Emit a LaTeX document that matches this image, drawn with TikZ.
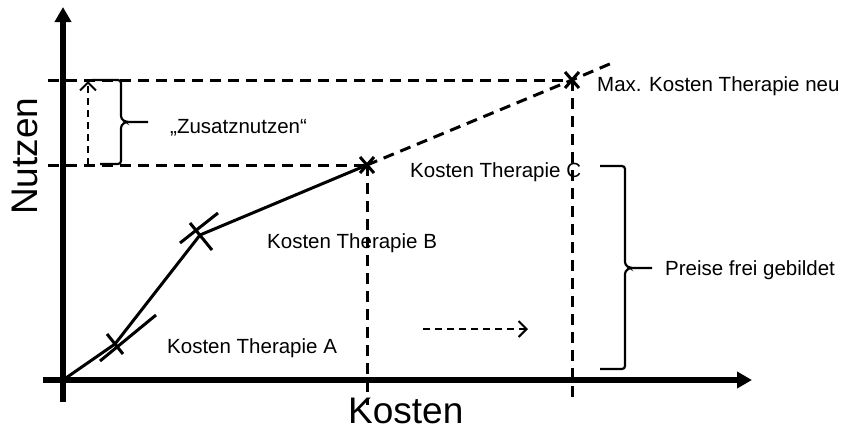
\documentclass[tikz,border=0pt]{standalone}
\usepackage{fontspec}
\setmainfont{Liberation Sans}
\usetikzlibrary{arrows.meta}

\begin{document}
\begin{tikzpicture}[x=1pt, y=-1pt,
  axis/.style={line width=5.5pt, -{Triangle[length=15pt,width=16pt]}},
  curve/.style={line width=3pt},
  xmark/.style={line width=3pt},
  guide/.style={line width=3pt, dash pattern=on 11pt off 7pt},
  hint/.style={line width=2pt, dash pattern=on 7pt off 5pt,
               -{Straight Barb[length=8pt,width=16pt,line width=2pt]}},
  brc/.style={line width=2.2pt, rounded corners=3pt},
  lbl/.style={font=\fontsize{20.5}{24}\selectfont, inner sep=0pt, anchor=base west},
  big/.style={font=\fontsize{37}{44}\selectfont, inner sep=0pt, anchor=base west}
]
\useasboundingbox (0,0) rectangle (843,432);

% points on the curve
\coordinate (O) at (63,380);
\coordinate (A) at (115,344);
\coordinate (B) at (200,235);
\coordinate (C) at (367,165);
\coordinate (D) at (572,80);
\coordinate (E) at (612,63);

% ends of axes and guides
\coordinate (xs) at (43,380);  \coordinate (xe) at (752,380);
\coordinate (ys) at (63,402);  \coordinate (ye) at (63,7);
\coordinate (hD) at (48,80);   \coordinate (hC) at (48,165);
\coordinate (vC) at (367,405); \coordinate (vD) at (572,402);

\draw[axis] (ys) -- (ye);
\draw[axis] (xs) -- (xe);

% guides
\draw[guide] (hD) -- (D);
\draw[guide] (hC) -- (C);
\draw[guide] (C) -- (vC);
\draw[guide] (D) -- (vD);
\draw[guide] (C) -- (D) -- (E);

% cost curve
\draw[curve] (O) -- (A) -- (B) -- (C);

% markers
\draw[xmark, shift={(A)}] (-8,-10) -- (8,10) (-15,17) -- (41,-29);
\draw[xmark, shift={(B)}] (-10,-12) -- (12,15) (-20,8) -- (18,-22);
\draw[xmark, shift={(C)}] (-7,-8) -- (7,8) (-7,8) -- (7,-8);
\draw[xmark, shift={(D)}] (-7,-8) -- (7,8) (-7,8) -- (7,-8);

% dashed arrows
\coordinate (up1) at (88,165); \coordinate (up2) at (88,81);
\draw[hint] (up1) -- (up2);
\coordinate (sh1) at (423,329); \coordinate (sh2) at (528,329);
\draw[hint] (sh1) -- (sh2);

% braces
\coordinate (tz) at (148,122);
\draw[brc] (92,80) -- (121,80) -- (121,119) -- (126,122) -- (tz);
\draw[brc] (126,122) -- (121,125) -- (121,164) -- (100,164);
\coordinate (tp) at (652,268);
\draw[brc] (600,166) -- (625,166) -- (625,265) -- (630,268) -- (tp);
\draw[brc] (630,268) -- (625,271) -- (625,369) -- (600,369);

% labels
\node[lbl] (zn) at (170,133) {„Zusatznutzen“};
\node[lbl] (kA) at (167,353) {Kosten Therapie A};
\node[lbl] (kB) at (267,248) {Kosten Therapie B};
\node[lbl] (kC) at (410,177) {Kosten Therapie C};
\node[lbl] (kN) at (597,91) {Max. Kosten Therapie neu};
\node[lbl] (pf) at (665,275) {Preise frei gebildet};
\node[big] (xl) at (348,423) {Kosten};
\node[big, rotate=90] (yl) at (37,215) {Nutzen};
\end{tikzpicture}
\end{document}
